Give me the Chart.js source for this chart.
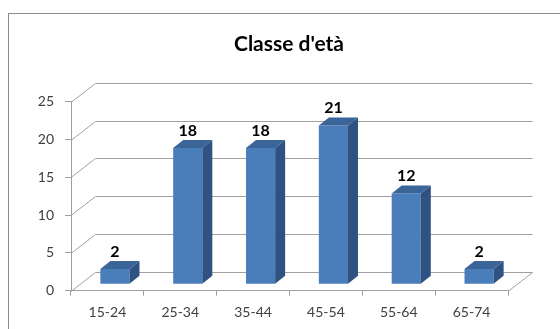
<!DOCTYPE html>
<html lang="it">
<head>
<meta charset="utf-8">
<title>Classe d'età</title>
<script src="https://cdn.jsdelivr.net/npm/chart.js@4/dist/chart.umd.min.js"></script>
<style>
  html, body { margin: 0; padding: 0; background: #fff; overflow: hidden; }
  #wrap { position: relative; width: 560px; height: 329px; overflow: hidden; }
  #frame { position: absolute; left: 8px; top: 13px; width: 600px; height: 400px; border: 1px solid #8c8c8c; }
  canvas { position: absolute; left: 0; top: 0; }
</style>
</head>
<body>
<div id="wrap">
  <div id="frame"></div>
  <canvas id="ageChart" width="560" height="329"></canvas>
</div>
<script>
// Data
const chartTitle = "Classe d'età";
const categories = ["15-24", "25-34", "35-44", "45-54", "55-64", "65-74"];
const counts = [2, 18, 18, 21, 12, 2];
const yTicks = [0, 5, 10, 15, 20, 25];

// Fake 3D: offsets of the back wall, the bar plane and the bar depth
const WALL_DX = 24.5, WALL_DY = -19;
const BAR_DX = 7.5, BAR_DY = -6.5;
const DEPTH_DX = 10, DEPTH_DY = -8;

const LINE_GREY = "#a0a0a0";
const FRONT_BLUE = "#4a7ebb";
const TOP_BLUE = "#3b6499";
const SIDE_BLUE = "#2f5282";

// Plugin that draws the walls, the bar sides, the value labels and the title
const box3dPlugin = {
  id: "box3d",
  beforeDatasetsDraw(chart) {
    const { ctx, scales: { x, y } } = chart;
    ctx.save();
    ctx.strokeStyle = LINE_GREY;
    ctx.lineWidth = 1;
    yTicks.forEach((v) => {
      const py = Math.round(y.getPixelForValue(v)) + 0.5;
      ctx.beginPath();
      ctx.moveTo(x.left, py);
      ctx.lineTo(x.left + WALL_DX, py + WALL_DY);
      ctx.lineTo(x.right + WALL_DX, py + WALL_DY);
      ctx.stroke();
    });
    // right edge of the floor
    const y0 = Math.round(y.getPixelForValue(0)) + 0.5;
    ctx.beginPath();
    ctx.moveTo(x.right, y0);
    ctx.lineTo(x.right + WALL_DX, y0 + WALL_DY);
    ctx.stroke();
    ctx.restore();

    // move the bars into the middle of the floor
    ctx.save();
    ctx.translate(BAR_DX, BAR_DY);
  },
  afterDatasetsDraw(chart) {
    const ctx = chart.ctx;
    const meta = chart.getDatasetMeta(0);
    meta.data.forEach((bar) => {
      const l = bar.x - bar.width / 2;
      const r = bar.x + bar.width / 2;
      const t = bar.y;
      const b = bar.base;
      // top face
      ctx.fillStyle = TOP_BLUE;
      ctx.beginPath();
      ctx.moveTo(l, t);
      ctx.lineTo(l + DEPTH_DX, t + DEPTH_DY);
      ctx.lineTo(r + DEPTH_DX, t + DEPTH_DY);
      ctx.lineTo(r, t);
      ctx.closePath();
      ctx.fill();
      // side face
      ctx.fillStyle = SIDE_BLUE;
      ctx.beginPath();
      ctx.moveTo(r, t);
      ctx.lineTo(r + DEPTH_DX, t + DEPTH_DY);
      ctx.lineTo(r + DEPTH_DX, b + DEPTH_DY);
      ctx.lineTo(r, b);
      ctx.closePath();
      ctx.fill();
    });
    ctx.restore();

    // value labels above each bar
    ctx.save();
    ctx.font = "bold 16px Lato";
    ctx.fillStyle = "#000";
    ctx.textAlign = "center";
    ctx.textBaseline = "middle";
    meta.data.forEach((bar, i) => {
      ctx.fillText(String(counts[i]), bar.x + BAR_DX, bar.y + BAR_DY + DEPTH_DY - 9.5);
    });
    ctx.restore();
  },
  afterDraw(chart) {
    // title, centred on the (wider) chart frame
    const ctx = chart.ctx;
    ctx.save();
    ctx.font = "bold 21px Lato";
    ctx.fillStyle = "#000";
    ctx.textAlign = "center";
    ctx.textBaseline = "middle";
    ctx.fillText(chartTitle, 289, 44);
    ctx.restore();
  },
};

const ctx = document.getElementById("ageChart");
new Chart(ctx, {
  type: "bar",
  data: {
    labels: categories,
    datasets: [
      {
        label: chartTitle,
        data: counts,
        backgroundColor: FRONT_BLUE,
        categoryPercentage: 1,
        barPercentage: 0.4,
      },
    ],
  },
  options: {
    responsive: false,
    animation: false,
    devicePixelRatio: 1,
    layout: { padding: { left: 0, right: 52, top: 101.7, bottom: 0 } },
    scales: {
      x: {
        grid: { drawOnChartArea: false, drawTicks: true, tickLength: 5, color: LINE_GREY, offset: true },
        border: { display: true, color: LINE_GREY },
        ticks: { color: "#404040", font: { family: "Lato", size: 14 }, padding: 8, maxRotation: 0 },
        afterFit(scale) {
          scale.height = 38.3;
        },
      },
      y: {
        min: 0,
        max: 25,
        grid: { drawOnChartArea: false, drawTicks: true, tickLength: 6, color: LINE_GREY },
        border: { display: true, color: LINE_GREY },
        ticks: { stepSize: 5, color: "#404040", font: { family: "Lato", size: 14 }, padding: 11 },
        afterFit(scale) {
          scale.width = 71;
        },
      },
    },
    plugins: {
      legend: { display: false },
      tooltip: { enabled: false },
      title: { display: false },
    },
  },
  plugins: [box3dPlugin],
});
</script>
</body>
</html>
